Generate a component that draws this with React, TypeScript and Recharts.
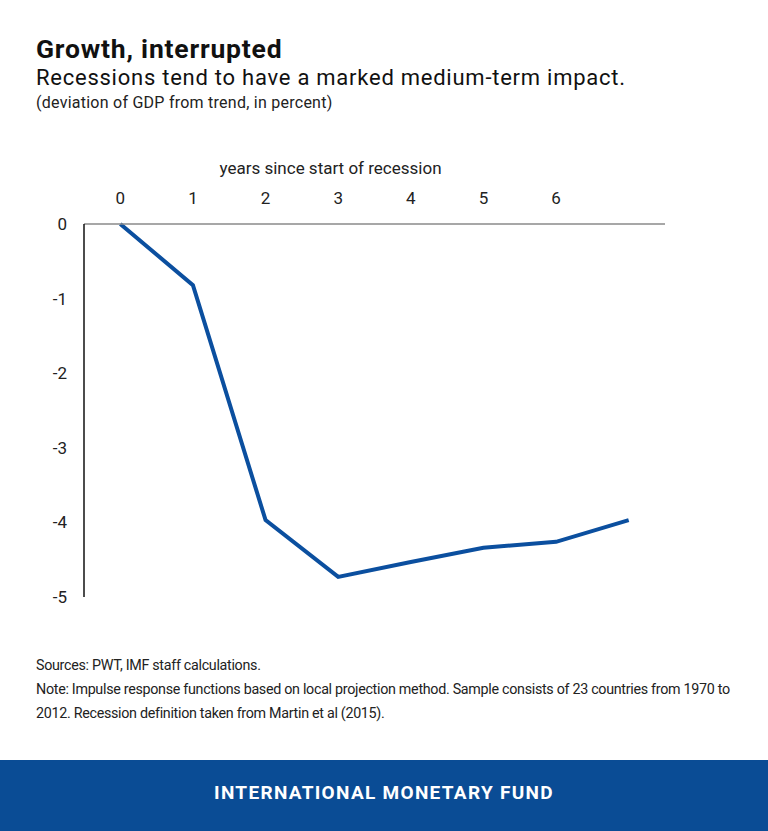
import React from 'react';
import { LineChart, Line, XAxis, YAxis } from 'recharts';

// years since start of recession
const years = [0, 1, 2, 3, 4, 5, 6, 7];
// deviation of GDP from trend, in percent
const gdpDeviation = [0, -0.82, -3.97, -4.73, -4.53, -4.34, -4.26, -3.97];
const xTicks = [0, 1, 2, 3, 4, 5, 6];
const yTicks = [0, -1, -2, -3, -4, -5];

const data = years.map((year, i) => ({ year, value: gdpDeviation[i] }));

const FONT = 'Roboto, "Noto Sans", sans-serif';
const BLUE = '#0b4f9f';

const App: React.FC = () => {
  return (
    <div
      style={{
        position: 'absolute',
        left: 0,
        top: 0,
        width: 768,
        height: 831,
        background: '#fff',
        fontFamily: FONT,
        color: '#111',
        overflow: 'hidden',
      }}
    >
      <div style={{ position: 'absolute', left: 0, top: 0 }}>
        <LineChart
          width={768}
          height={620}
          data={data}
          margin={{ top: 164, right: 103, bottom: 23, left: 0 }}
        >
          <XAxis
            dataKey="year"
            type="number"
            orientation="top"
            domain={[-0.5, 7.5]}
            ticks={xTicks}
            height={60}
            tickLine={false}
            tickSize={0}
            tickMargin={20}
            axisLine={{ stroke: '#8a8a8a', strokeWidth: 1.5 }}
            tick={{ fontSize: 17, fill: '#222', fontFamily: FONT }}
            label={{
              value: 'years since start of recession',
              position: 'top',
              offset: -10,
              dx: -44,
              fontSize: 17,
              fill: '#222',
              fontFamily: FONT,
            }}
          />
          <YAxis
            type="number"
            domain={[-5, 0]}
            ticks={yTicks}
            width={84}
            tickLine={false}
            tickSize={0}
            tickMargin={17}
            axisLine={{ stroke: '#111', strokeWidth: 1.5 }}
            tick={{ fontSize: 17, fill: '#222', fontFamily: FONT }}
          />
          <Line
            type="linear"
            dataKey="value"
            stroke={BLUE}
            strokeWidth={4}
            dot={false}
            isAnimationActive={false}
          />
        </LineChart>
      </div>

      <div
        style={{
          position: 'absolute',
          left: 36,
          top: 34,
          fontSize: 26.5,
          fontWeight: 700,
          lineHeight: '30px',
          letterSpacing: 0.8,
        }}
      >
        Growth, interrupted
      </div>
      <div
        style={{
          position: 'absolute',
          left: 36,
          top: 64,
          fontSize: 22,
          lineHeight: '28px',
          color: '#111',
          letterSpacing: 0.75,
        }}
      >
        Recessions tend to have a marked medium-term impact.
      </div>
      <div
        style={{
          position: 'absolute',
          left: 36,
          top: 93,
          fontSize: 16,
          lineHeight: '20px',
          color: '#222',
          letterSpacing: 0.25,
        }}
      >
        (deviation of GDP from trend, in percent)
      </div>

      <div
        style={{
          position: 'absolute',
          left: 36,
          top: 653,
          width: 730,
          fontSize: 14.3,
          lineHeight: '24px',
          color: '#222',
          letterSpacing: -0.3,
          whiteSpace: 'nowrap',
        }}
      >
        <div>Sources: PWT, IMF staff calculations.</div>
        <div>
          Note: Impulse response functions based on local projection method. Sample consists of 23 countries from 1970 to
        </div>
        <div>2012. Recession definition taken from Martin et al (2015).</div>
      </div>

      <div
        style={{
          position: 'absolute',
          left: 0,
          top: 760,
          width: 768,
          height: 71,
          boxSizing: 'border-box',
          paddingBottom: 6,
          background: '#0a4c95',
          color: '#fff',
          display: 'flex',
          alignItems: 'center',
          justifyContent: 'center',
          fontSize: 19,
          fontWeight: 700,
          letterSpacing: 1.3,
        }}
      >
        INTERNATIONAL MONETARY FUND
      </div>
    </div>
  );
};

export default App;
